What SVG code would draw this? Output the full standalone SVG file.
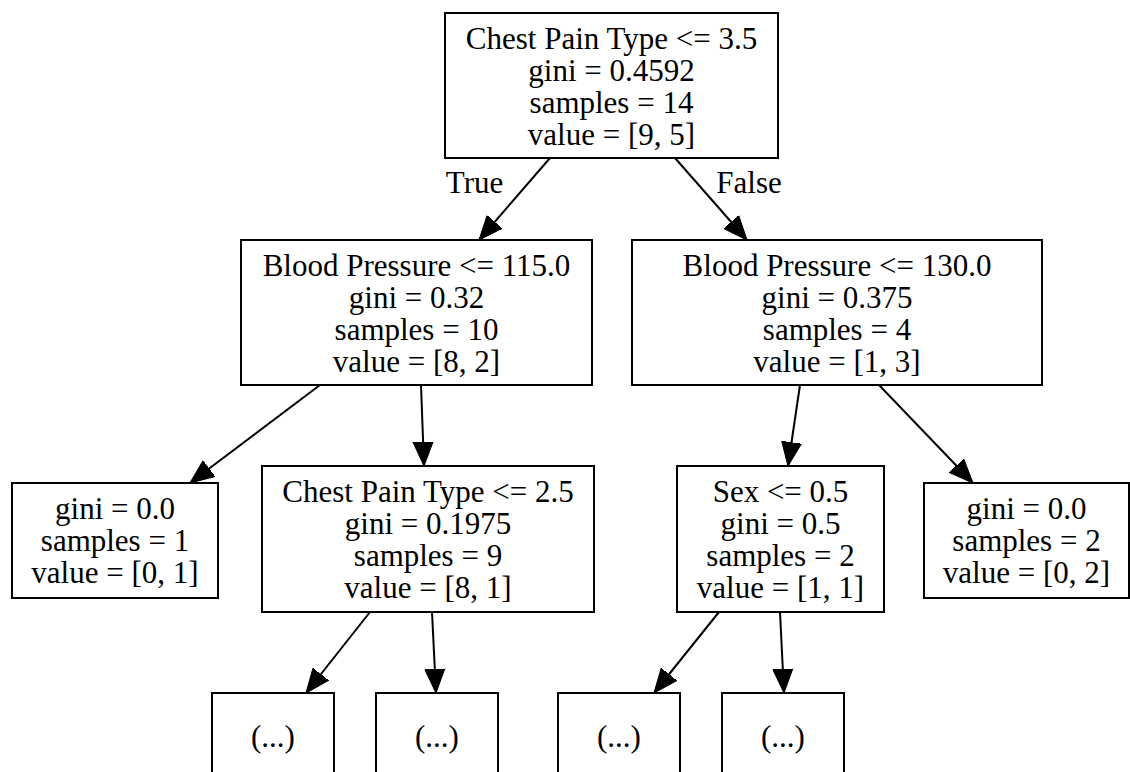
<svg xmlns="http://www.w3.org/2000/svg" width="1130" height="772" viewBox="0 0 1130 772">
<defs>
<style>
.box{fill:#fff;stroke:#000;stroke-width:2}
.t{font-family:"Liberation Serif","Times New Roman",serif;font-size:31px;fill:#000;text-anchor:middle}
.e{stroke:#000;stroke-width:2;fill:none;marker-end:url(#ah)}
</style>
<marker id="ah" markerUnits="userSpaceOnUse" markerWidth="25" markerHeight="22" refX="24" refY="11" orient="auto" viewBox="0 0 25 22">
<path d="M0,1 L24,11 L0,21 z" fill="#000" stroke="#000" stroke-width="1"/>
</marker>
</defs>
<rect width="1130" height="772" fill="#fff"/>
<g id="edges">
<line class="e" x1="550" y1="158" x2="479" y2="240"/>
<line class="e" x1="675" y1="158" x2="747" y2="240"/>
<line class="e" x1="320" y1="385" x2="190" y2="483"/>
<line class="e" x1="421" y1="385" x2="424" y2="466"/>
<line class="e" x1="370" y1="612" x2="306" y2="693"/>
<line class="e" x1="432" y1="612" x2="436" y2="693"/>
<line class="e" x1="800" y1="385" x2="788" y2="466"/>
<line class="e" x1="879" y1="385" x2="973" y2="483"/>
<line class="e" x1="719" y1="612" x2="654" y2="693"/>
<line class="e" x1="780" y1="612" x2="784" y2="693"/>
<text class="t" x="474.5" y="193">True</text>
<text class="t" x="749" y="193">False</text>
</g>
<g id="n0">
<rect class="box" x="445" y="13" width="333" height="145"/>
<text class="t" x="611.5" y="48.5">Chest Pain Type &lt;= 3.5</text>
<text class="t" x="611.5" y="80.5">gini = 0.4592</text>
<text class="t" x="611.5" y="112.5">samples = 14</text>
<text class="t" x="611.5" y="144.5">value = [9, 5]</text>
</g>
<g id="n1">
<rect class="box" x="241" y="240" width="351" height="145"/>
<text class="t" x="416.5" y="275.5">Blood Pressure &lt;= 115.0</text>
<text class="t" x="416.5" y="307.5">gini = 0.32</text>
<text class="t" x="416.5" y="339.5">samples = 10</text>
<text class="t" x="416.5" y="371.5">value = [8, 2]</text>
</g>
<g id="n2">
<rect class="box" x="632" y="240" width="410" height="145"/>
<text class="t" x="837" y="275.5">Blood Pressure &lt;= 130.0</text>
<text class="t" x="837" y="307.5">gini = 0.375</text>
<text class="t" x="837" y="339.5">samples = 4</text>
<text class="t" x="837" y="371.5">value = [1, 3]</text>
</g>
<g id="n3">
<rect class="box" x="12" y="483" width="206" height="115"/>
<text class="t" x="115" y="519">gini = 0.0</text>
<text class="t" x="115" y="551">samples = 1</text>
<text class="t" x="115" y="583">value = [0, 1]</text>
</g>
<g id="n4">
<rect class="box" x="262" y="466" width="332" height="146"/>
<text class="t" x="428" y="502">Chest Pain Type &lt;= 2.5</text>
<text class="t" x="428" y="534">gini = 0.1975</text>
<text class="t" x="428" y="566">samples = 9</text>
<text class="t" x="428" y="598">value = [8, 1]</text>
</g>
<g id="n5">
<rect class="box" x="677" y="466" width="207" height="146"/>
<text class="t" x="780.5" y="502">Sex &lt;= 0.5</text>
<text class="t" x="780.5" y="534">gini = 0.5</text>
<text class="t" x="780.5" y="566">samples = 2</text>
<text class="t" x="780.5" y="598">value = [1, 1]</text>
</g>
<g id="n6">
<rect class="box" x="924" y="483" width="205" height="115"/>
<text class="t" x="1026.5" y="519">gini = 0.0</text>
<text class="t" x="1026.5" y="551">samples = 2</text>
<text class="t" x="1026.5" y="583">value = [0, 2]</text>
</g>
<g id="n7">
<rect class="box" x="212" y="693" width="122" height="100"/>
<text class="t" x="273" y="747">(...)</text>
</g>
<g id="n8">
<rect class="box" x="376" y="693" width="122" height="100"/>
<text class="t" x="437" y="747">(...)</text>
</g>
<g id="n9">
<rect class="box" x="558" y="693" width="122" height="100"/>
<text class="t" x="619" y="747">(...)</text>
</g>
<g id="n10">
<rect class="box" x="722" y="693" width="122" height="100"/>
<text class="t" x="783" y="747">(...)</text>
</g>
</svg>
